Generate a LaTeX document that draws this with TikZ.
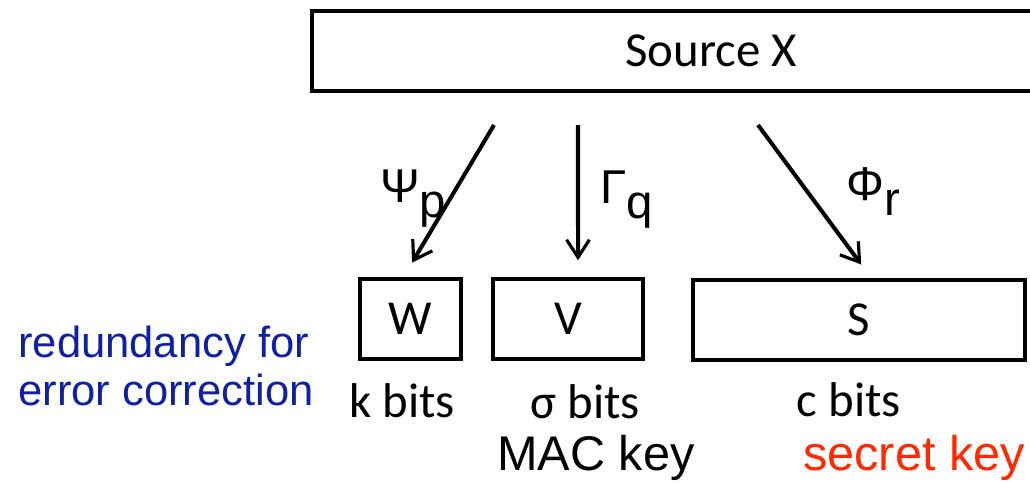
\documentclass[tikz,border=0pt]{standalone}
\usepackage{fontspec}
\setmainfont{Carlito}
\newfontfamily\arialfont{Liberation Sans}
\usepackage{tikz}
\usetikzlibrary{arrows.meta,positioning,calc}
\definecolor{noteblue}{RGB}{16,32,166}
\definecolor{keyred}{RGB}{255,40,0}
\tikzstyle{arrow} = [line width=2.3pt,-{Straight Barb[length=10pt,width=13pt,line width=1.8pt]},shorten >=9.6pt]
\tikzstyle{part} = [rectangle, draw=black, line width=2.2pt, minimum height=1.6cm, inner sep=0pt, font=\fontsize{27.8}{33}\selectfont]
\tikzstyle{bits} = [anchor=base, font=\fontsize{27.8}{33}\selectfont]
\tikzstyle{map} = [anchor=base west, inner sep=0pt, font=\arialfont\fontsize{27}{32}\selectfont]
\tikzstyle{note} = [anchor=base, inner sep=0pt, font=\arialfont\fontsize{27.7}{33}\selectfont]
\newcommand{\low}[1]{\raisebox{-9pt}{#1}}

\begin{document}
\begin{tikzpicture}[x=0.02cm, y=-0.02cm]
    \clip (0,0) rectangle (1030,483);

    % Source
    \node[part, minimum width=15.96cm] (src) at (711,51) {Source X};

    % Blocks
    \node[part, minimum width=2.02cm] (w) at (410.5,319) {W};
    \node[part, minimum width=3cm] (v) at (568,319) {V};
    \node[part, minimum width=6.64cm] (s) at (859,320) {S};

    % Sizes
    \node[bits] (kb) at (402,417) {k bits};
    \node[bits] (sb) at (585,418) {σ bits};
    \node[bits] (cb) at (849,416) {c bits};

    % Uses
    \node[note] (mac) at (596,470) {MAC key};
    \node[note, text=keyred] (sec) at (914,470) {secret key};
    \node[anchor=base west, inner sep=0pt, text=noteblue, align=left,
          font=\arialfont\fontsize{24.8}{27.2}\selectfont] (red) at (18,405)
          {redundancy for\\error correction};

    % Maps
    \coordinate (psi0) at (494,125);
    \coordinate (gam0) at (578,125);
    \coordinate (phi0) at (758,125);
    \draw[arrow] (psi0) -- ([xshift=-4pt]w.north);
    \draw[arrow] (gam0) -- ([xshift=5.7pt]v.north);
    \draw[arrow] (phi0) -- ([xshift=7pt]s.north);
    \node[map] (psi) at (380,202) {Ψ\low{p}};
    \node[map] (gam) at (600,203) {Γ\low{q}};
    \node[map] (phi) at (846,200) {Φ\low{r}};
\end{tikzpicture}
\end{document}
